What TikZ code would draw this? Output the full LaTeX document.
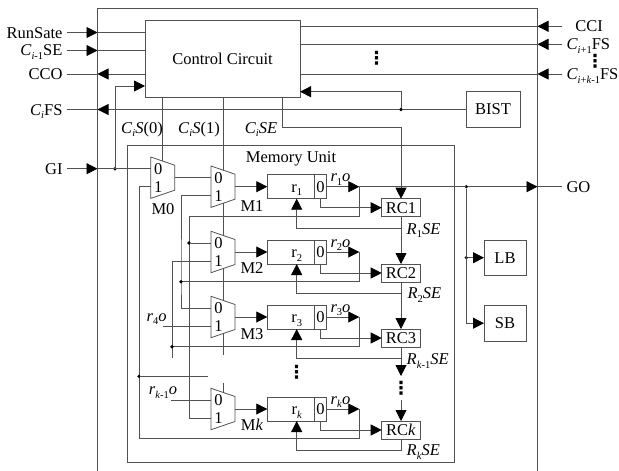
\documentclass[tikz,border=0pt]{standalone}
\usepackage{fontspec}
\setmainfont{Liberation Serif}
\newfontfamily\dotfont{DejaVu Sans Bold}
\usetikzlibrary{arrows.meta,calc}
\tikzset{
  wire/.style={black!68,line width=0.8pt},
  txt/.style={inner sep=0pt,outer sep=0pt,text height=11pt,text depth=0pt,font=\fontsize{16.5}{18}\selectfont},
  sigl/.style={txt,inner sep=4.5pt,anchor=east},
  sigr/.style={txt,inner sep=4.5pt,anchor=west},
  box/.style={wire,draw,text=black,inner sep=0pt,outer sep=0pt,font=\fontsize{16.5}{18}\selectfont},
  jdot/.style={circle,fill=black,inner sep=0pt,outer sep=0pt,minimum size=3.6pt},
  vdotz/.style={inner sep=0pt,outer sep=0pt,font=\dotfont\fontsize{18}{18}\selectfont},
}
\newcommand{\sbs}[1]{\raisebox{-0.22em}{\fontsize{10.5}{11}\selectfont #1}}
\newcommand{\muxbox}[3]{%
  \draw[wire] (#2,#3) ++(-12,-20.7) -- ++(24,8.2) -- ++(0,25) -- ++(-24,8.2) -- cycle;
  \coordinate (#1in0) at (#2-12,#3-9);
  \coordinate (#1in1) at (#2-12,#3+9);
  \coordinate (#1out) at (#2+12,#3);
  \coordinate (#1t) at (#2,#3-16.6);
  \coordinate (#1b) at (#2,#3+16.6);
  \node[txt] (#1z) at (#2-4.5,#3-9) {0};
  \node[txt] (#1o) at (#2-4.5,#3+9) {1};
}

\begin{document}
\begin{tikzpicture}[x=1pt,y=-1pt,>={Triangle[length=11pt,width=11pt,color=black]}]
  \useasboundingbox (0,0) rectangle (619,471);
  \draw[wire] (97.5,471) -- (97.5,8.5) -- (537.5,8.5) -- (537.5,471);
  \draw[wire] (127.7,145) rectangle (454.3,462.7);
  \coordinate (edgeL) at (97.5,0);
  \coordinate (edgeR) at (537.5,0);

  \node[box,minimum width=155,minimum height=77] (ctrl) at (222.5,59) {Control Circuit};
  \node[box,minimum width=54,minimum height=36] (bist) at (493,109.5) {BIST};
  \node[box,minimum width=42,minimum height=35.5] (lb) at (505,257.7) {LB};
  \node[box,minimum width=42,minimum height=35.5] (sb) at (505,323.2) {SB};

  \node[sigl] (run) at (67,32.5) {RunSate};
  \node[sigl] (cim) at (67,50.5) {\textit{C}\sbs{\textit{i}-1}SE};
  \node[sigl] (cco) at (67,74) {CCO};
  \node[sigl] (cfs) at (67,109.5) {\textit{C}\sbs{\textit{i}}FS};
  \node[sigl] (gi) at (67,168.7) {GI};
  \node[sigr,minimum width=54pt] (cci) at (562,26.3) {CCI};
  \node[sigr] (fsa) at (562,44.3) {\textit{C}\sbs{\textit{i}+1}FS};
  \node[sigr] (fsb) at (562,74) {\textit{C}\sbs{\textit{i}+\textit{k}-1}FS};
  \node[sigr] (go) at (562,186.7) {GO};

  \node[txt] (lcs0) at (142,127.7) {\textit{C}\sbs{\textit{i}}\textit{S}(0)};
  \node[txt] (lcs1) at (199,127.7) {\textit{C}\sbs{\textit{i}}\textit{S}(1)};
  \node[txt] (lcse) at (261,127.7) {\textit{C}\sbs{\textit{i}}\textit{SE}};
  \node[txt] (lmem) at (291,156.7) {Memory Unit};
  \node[vdotz] (dtop) at (376.7,58.7) {⋮};
  \node[vdotz] (dright) at (595,61.7) {⋮};

  \muxbox{m0}{162.7}{177.7}
  \node[txt] (lm0) at (163,209) {M0};

  \foreach \n/\y/\xb/\my/\lab in {1/186.7/189/19.5/1,2/252/181/16/2,3/317/172/16.7/3,k/409/139/16/\textit{k}}{
    \muxbox{m\n}{223}{\y}
    \node[txt] (lm\n) at (252,\y+\my) {M\lab};
    \node[box,minimum width=47,minimum height=24] (r\n) at (290.8,\y) {};
    \node[txt] (lr\n) at (296.7,\y) {r\sbs{\lab}};
    \node[box,minimum width=12.4,minimum height=24] (c\n) at (320.5,\y) {0};
    \node[box,minimum width=38.6,minimum height=18] (rc\n) at (401,\y+21) {RC\lab};
    \node[txt] (lo\n) at (340.5,\y-10.5) {\textit{r}\sbs{\lab}\textit{o}};
    \coordinate (tap\n) at (359.3,\y);
    \coordinate (bus\n) at (\xb,\y+29.7);
    \coordinate (se\n) at (401,\y+41.6);
    \draw[wire,->] (m\n out) -- (r\n.west);
    \draw[wire,->] (c\n.east) -- (tap\n);
    \draw[wire,->] (c\n.south) |- (rc\n.west);
    \draw[wire] (tap\n) |- (bus\n);
    \draw[wire,->] (rc\n.south) -- (se\n) -| (lr\n |- r\n.south);
  }
  \node[vdotz] (dreg) at (296.7,372.7) {⋮};
  \node[vdotz] (dchain) at (401,388.3) {⋮};

  \draw[wire,->] (run.east) -- (run.east -| edgeL);
  \draw[wire] (run.east -| edgeL) -- (run.east -| ctrl.west);
  \draw[wire,->] (cim.east) -- (cim.east -| edgeL);
  \draw[wire] (cim.east -| edgeL) -- (cim.east -| ctrl.west);
  \draw[wire,->] (cco.east -| ctrl.west) -- (cco.east -| edgeL);
  \draw[wire] (cco.east -| edgeL) -- (cco.east);
  \foreach \s in {cci,fsa,fsb}{
    \draw[wire,->] (\s.west) -- (\s.west -| edgeR);
    \draw[wire] (\s.west -| edgeR) -- (\s.west -| ctrl.east);
  }

  \node[jdot] (jb) at (401,109.5) {};
  \coordinate (fb) at (300,91.7);
  \draw[wire] (bist.west) -- (jb);
  \draw[wire,->] (jb) -- (cfs.east -| edgeL);
  \draw[wire] (cfs.east -| edgeL) -- (cfs.east);
  \draw[wire,->] (jb) |- (fb);
  \coordinate (sebend) at (282,127.2);
  \draw[wire,->] (sebend |- ctrl.south) -- (sebend) -| (rc1.north);

  \node[jdot] (jgi) at (115,168.7) {};
  \coordinate (gitop) at (145,86);
  \draw[wire,->] (gi.east) -- (gi.east -| edgeL);
  \draw[wire] (gi.east -| edgeL) -- (m0in0);
  \draw[wire,->] (jgi) |- (gitop);

  \draw[wire] (m0t |- ctrl.south) -- (m0t);
  \draw[wire] (m0out) -- (m1in0);
  \draw[wire] (m1t |- ctrl.south) -- (m1t);
  \draw[wire] (m1b) -- (m2t);
  \draw[wire] (m2b) -- (m3t);
  \coordinate (cutA) at (223,355);
  \coordinate (cutB) at (223,383);
  \draw[wire] (m3b) -- (cutA);
  \draw[wire] (cutB) -- (mkt);

  \draw[wire] (bus1) |- (mkin1);
  \node[jdot] (j1) at (bus1 |- m2in0) {};
  \draw[wire] (j1) -- (m2in0);
  \draw[wire] (m1in1) -| (bus2) |- (m3in0);
  \node[jdot] at (bus2) {};
  \coordinate (stub3) at (172,358.3);
  \draw[wire] (m2in1) -| (stub3);
  \node[jdot] at (bus3) {};
  \draw[wire] (busk) |- (m0in1);
  \node[jdot] (jk) at (139,376.3) {};
  \coordinate (stubk) at (208,376.3);
  \draw[wire] (jk) -- (stubk);
  \coordinate (stub4) at (163,326);
  \coordinate (stubo) at (171,400);
  \draw[wire] (stub4) -- (m3in1);
  \draw[wire] (stubo) -- (mkin0);
  \node[txt] (lr4o) at (156.7,315.7) {\textit{r}\sbs{4}\textit{o}};
  \node[txt] (lrko) at (163,389) {\textit{r}\sbs{\textit{k}-1}\textit{o}};

  \draw[wire,->] (rc1.south) -- (rc2.north);
  \draw[wire,->] (rc2.south) -- (rc3.north);
  \coordinate (chainA) at (401,376);
  \coordinate (chainB) at (401,400);
  \draw[wire,->] (rc3.south) -- (chainA);
  \draw[wire,->] (chainB) -- (rck.north);
  \node[txt,anchor=west] (l1se) at (406.7,228.7) {\textit{R}\sbs{1}\textit{SE}};
  \node[txt,anchor=west] (l2se) at (407.5,293.2) {\textit{R}\sbs{2}\textit{SE}};
  \node[txt,anchor=west] (l3se) at (406.7,359) {\textit{R}\sbs{\textit{k}-1}\textit{SE}};
  \node[txt,anchor=west] (lkse) at (406.7,450) {\textit{R}\sbs{\textit{k}}\textit{SE}};

  \node[jdot] (jgo) at (466.3,186.7) {};
  \node[jdot] (jlb) at (466.3,257.7) {};
  \draw[wire] (tap1) -- (go.west -| jgo);
  \draw[wire,->] (jgo) -- (go.west -| edgeR);
  \draw[wire] (go.west -| edgeR) -- (go.west);
  \draw[wire,->] (jgo) |- (sb.west);
  \draw[wire,->] (jlb) -- (lb.west);
\end{tikzpicture}
\end{document}
